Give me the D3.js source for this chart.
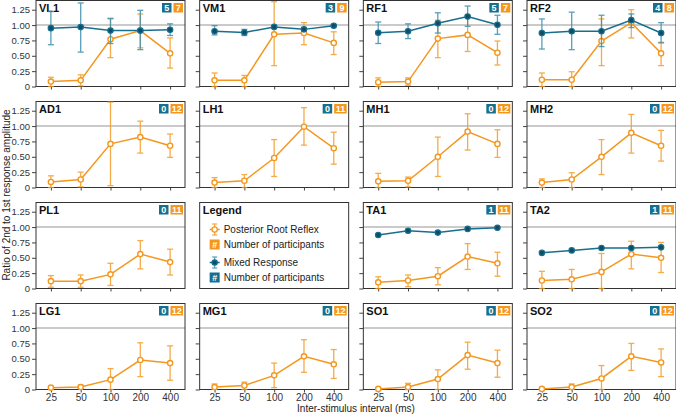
<!DOCTYPE html>
<html><head><meta charset="utf-8">
<script src="https://cdn.jsdelivr.net/npm/d3@7"></script>
<style>
body{margin:0;background:#fff;}
svg{display:block;font-family:"Liberation Sans",Arial,sans-serif;}
</style></head>
<body><svg id="c" width="676" height="414"></svg>
<script>
const intervals = ["25","50","100","200","400"];
const yTicks = [0, 0.25, 0.5, 0.75, 1.0, 1.25];
const panelNames = ["VL1","VM1","RF1","RF2","AD1","LH1","MH1","MH2","PL1","TA1","TA2","LG1","MG1","SO1","SO2"];
const nMixed = [5,3,5,4,0,0,0,0,0,1,1,0,0,0,0];
const nPrr   = [7,9,7,8,12,11,12,12,11,11,11,12,12,12,12];
const prrMean = [
 [0.08,0.10,0.77,0.91,0.54],[0.10,0.10,0.85,0.87,0.71],[0.07,0.08,0.78,0.84,0.55],[0.11,0.11,0.74,1.04,0.54],
 [0.09,0.13,0.71,0.82,0.68],[0.08,0.11,0.48,0.99,0.64],[0.10,0.11,0.50,0.91,0.71],[0.08,0.13,0.50,0.89,0.68],
 [0.12,0.12,0.23,0.56,0.43],[0.10,0.13,0.20,0.52,0.41],[0.13,0.15,0.27,0.56,0.50],
 [0.03,0.04,0.16,0.48,0.43],[0.04,0.065,0.23,0.54,0.41],[0.01,0.04,0.17,0.56,0.43],[0.01,0.04,0.18,0.54,0.44]];
const prrLow = [
 [0.00,0.01,0.47,0.63,0.30],[0.00,0.00,0.34,0.68,0.52],[0.00,0.02,0.47,0.57,0.35],[0.00,0.00,0.34,0.79,0.34],
 [0.00,0.01,0.03,0.56,0.49],[0.00,0.00,0.18,0.69,0.38],[0.00,0.01,0.18,0.61,0.49],[0.00,0.00,0.21,0.56,0.43],
 [0.02,0.02,0.05,0.32,0.22],[0.00,0.03,0.06,0.31,0.20],[0.00,0.00,0.00,0.32,0.26],
 [0.01,0.02,0.00,0.21,0.15],[0.00,0.00,0.03,0.28,0.18],[0.00,0.00,0.00,0.33,0.20],[0.00,0.00,0.00,0.31,0.21]];
const prrHigh = [
 [0.15,0.19,1.10,1.18,0.79],[0.22,0.18,1.38,1.04,0.89],[0.14,0.14,1.08,1.16,0.74],[0.22,0.24,1.10,1.25,0.72],
 [0.19,0.25,1.39,1.08,0.87],[0.16,0.21,0.78,1.30,0.90],[0.23,0.17,0.82,1.20,0.94],[0.14,0.24,0.78,1.19,0.93],
 [0.21,0.22,0.41,0.78,0.64],[0.19,0.22,0.34,0.73,0.59],[0.28,0.31,0.57,0.77,0.75],
 [0.05,0.07,0.34,0.76,0.71],[0.09,0.12,0.43,0.81,0.65],[0.02,0.10,0.32,0.77,0.64],[0.02,0.09,0.39,0.75,0.66]];
const mixMean = [
 [0.95,0.967,0.91,0.91,0.925],[0.90,0.88,0.97,0.93,0.99],[0.875,0.90,1.03,1.14,1.005],[0.87,0.90,0.90,1.08,0.87],
 null,null,null,null,null,[0.87,0.94,0.91,0.97,0.99],[0.58,0.62,0.66,0.66,0.67],null,null,null,null];
const mixLow = [
 [0.68,0.56,0.70,0.60,0.83],[0.84,0.83,0.95,0.90,0.98],[0.70,0.78,0.87,0.98,0.85],[0.61,0.60,0.65,0.96,0.71],
 null,null,null,null,null,null,null,null,null,null,null];
const mixHigh = [
 [1.22,1.36,1.11,1.24,1.02],[0.99,0.93,0.99,0.96,1.00],[1.05,1.02,1.20,1.31,1.16],[1.10,1.21,1.16,1.18,1.04],
 null,null,null,null,null,null,null,null,null,null,null];

const ORANGE = "#f4971e", BLUE = "#176f8e", BLUE_ERR = "#3b8fae", BLUE_DARK = "#0f4d66";
const svg = d3.select("#c");
const left0 = 36, pw = 149, ph = 86, colPitch = (676 - left0 - pw) / 3, rowPitch = 101, top0 = 0.5;
const x = d3.scalePoint().domain(intervals).range([0, pw]).padding(0.5);
const y = d3.scaleLinear().domain([0, 1.4]).range([ph, 0]);
const fmt = v => v === 0 ? "0" : d3.format(".2f")(v);

const slots = [];
let pi = 0;
for (let s = 0; s < 16; s++) {
  if (s === 9) { slots.push({s, legend:true}); continue; }
  slots.push({s, idx: pi++});
}

slots.forEach(sl => {
  const col = sl.s % 4, row = Math.floor(sl.s / 4);
  const g = svg.append("g").attr("transform", `translate(${left0 + col*colPitch},${top0 + row*rowPitch})`);
  if (sl.legend) { drawLegend(g); return; }
  const i = sl.idx;
  const ya = d3.axisLeft(y).tickValues(yTicks).tickSize(4).tickPadding(2).tickFormat(col === 0 ? fmt : "");
  const yg = g.append("g").call(ya);
  const xa = d3.axisBottom(x).tickSize(3).tickPadding(1.5).tickFormat(row === 3 ? (d => d) : "");
  const xg = g.append("g").attr("transform", `translate(0,${ph})`).call(xa);
  [yg, xg].forEach(a => {
    a.select(".domain").remove();
    a.selectAll("line").attr("stroke", "#444");
    a.selectAll("text").attr("fill", "#333").style("font-size", "10px");
  });
  yg.selectAll("text").style("font-size", "9.5px");
  g.append("line").attr("x1", 0).attr("x2", pw).attr("y1", y(1)).attr("y2", y(1))
    .attr("stroke", "#b8b8b8").attr("stroke-width", 1.6);
  g.append("rect").attr("width", pw).attr("height", ph).attr("fill", "none").attr("stroke", "#333").attr("stroke-width", 1);
  g.append("text").attr("x", 3).attr("y", 11).text(panelNames[i])
    .style("font-size", "11px").style("font-weight", "bold").attr("fill", "#111");
  const wB = String(nPrr[i]).length > 1 ? 12.5 : 9.5;
  const wA = String(nMixed[i]).length > 1 ? 12.5 : 9.5;
  const bx2 = pw - 2 - wB, bx1 = bx2 - 2 - wA;
  [[bx1, wA, BLUE, nMixed[i]], [bx2, wB, ORANGE, nPrr[i]]].forEach(([bx, bw, c, n]) => {
    g.append("rect").attr("x", bx).attr("y", 2.5).attr("width", bw).attr("height", 9.5).attr("fill", c);
    g.append("text").attr("x", bx + bw/2).attr("y", 10.5).attr("text-anchor", "middle").text(n)
      .attr("fill", "#fff").style("font-size", "9px").style("font-weight", "bold");
  });
  const line = d3.line().x((d, k) => x(intervals[k])).y(d => y(d));
  drawErr(g, prrLow[i], prrHigh[i], ORANGE, 0.8);
  g.append("path").attr("d", line(prrMean[i])).attr("fill", "none").attr("stroke", ORANGE).attr("stroke-width", 1.5);
  g.selectAll(".po").data(prrMean[i]).join("circle")
    .attr("cx", (d, k) => x(intervals[k])).attr("cy", d => y(d)).attr("r", 2.6)
    .attr("fill", "#fff").attr("stroke", ORANGE).attr("stroke-width", 1.4);
  if (mixMean[i]) {
    if (mixLow[i]) drawErr(g, mixLow[i], mixHigh[i], BLUE_ERR, 0.85);
    g.append("path").attr("d", line(mixMean[i])).attr("fill", "none").attr("stroke", BLUE).attr("stroke-width", 1.5);
    g.selectAll(".mo").data(mixMean[i]).join("circle")
      .attr("cx", (d, k) => x(intervals[k])).attr("cy", d => y(d)).attr("r", 2.7)
      .attr("fill", BLUE_DARK).attr("stroke", BLUE).attr("stroke-width", 1.2);
  }
});

function drawErr(g, lo, hi, color, op) {
  const eg = g.append("g").attr("stroke", color).attr("stroke-width", 1.3).attr("opacity", op);
  lo.forEach((l, k) => {
    const cx = x(intervals[k]), y1 = y(Math.min(hi[k], 1.4)), y2 = y(l);
    eg.append("line").attr("x1", cx).attr("x2", cx).attr("y1", y1).attr("y2", y2);
    eg.append("line").attr("x1", cx - 3).attr("x2", cx + 3).attr("y1", y1).attr("y2", y1);
    eg.append("line").attr("x1", cx - 3).attr("x2", cx + 3).attr("y1", y2).attr("y2", y2);
  });
}

function drawLegend(g) {
  g.append("rect").attr("width", pw).attr("height", ph).attr("fill", "none").attr("stroke", "#333").attr("stroke-width", 1);
  g.append("text").attr("x", 3).attr("y", 11).text("Legend")
    .style("font-size", "11px").style("font-weight", "bold").attr("fill", "#111");
  const items = [
    {t:"Posterior Root Reflex", type:"marker", c:ORANGE, fill:"#fff", ec:ORANGE, yy:27},
    {t:"Number of participants", type:"badge", c:ORANGE, yy:42},
    {t:"Mixed Response", type:"marker", c:BLUE, fill:BLUE_DARK, ec:BLUE_ERR, yy:60},
    {t:"Number of participants", type:"badge", c:BLUE, yy:75}];
  const mx = 15;
  items.forEach(it => {
    if (it.type === "marker") {
      const eg = g.append("g").attr("stroke", it.ec).attr("stroke-width", 1.2).attr("opacity", 0.85);
      eg.append("line").attr("x1", mx).attr("x2", mx).attr("y1", it.yy - 5.5).attr("y2", it.yy + 5.5);
      eg.append("line").attr("x1", mx-2.5).attr("x2", mx+2.5).attr("y1", it.yy - 5.5).attr("y2", it.yy - 5.5);
      eg.append("line").attr("x1", mx-2.5).attr("x2", mx+2.5).attr("y1", it.yy + 5.5).attr("y2", it.yy + 5.5);
      g.append("line").attr("x1", mx-5).attr("x2", mx+5).attr("y1", it.yy).attr("y2", it.yy).attr("stroke", it.c).attr("stroke-width", 1.5);
      g.append("circle").attr("cx", mx).attr("cy", it.yy).attr("r", 2.6).attr("fill", it.fill).attr("stroke", it.c).attr("stroke-width", 1.3);
    } else {
      g.append("rect").attr("x", mx - 5).attr("y", it.yy - 5).attr("width", 10).attr("height", 10).attr("fill", it.c);
      g.append("text").attr("x", mx).attr("y", it.yy + 3.3).attr("text-anchor", "middle").text("#")
        .attr("fill", "#fff").style("font-size", "9px").style("font-weight", "bold");
    }
    g.append("text").attr("x", 24).attr("y", it.yy + 3.5).text(it.t).style("font-size", "10px").attr("fill", "#222");
  });
}

svg.append("text").attr("x", 356).attr("y", 412).attr("text-anchor", "middle")
  .text("Inter-stimulus interval (ms)").style("font-size", "10px").attr("fill", "#222");
svg.append("text").attr("transform", "translate(9.5,195) rotate(-90)").attr("text-anchor", "middle")
  .text("Ratio of 2nd to 1st response amplitude").style("font-size", "10px").attr("fill", "#222");
</script></body></html>
